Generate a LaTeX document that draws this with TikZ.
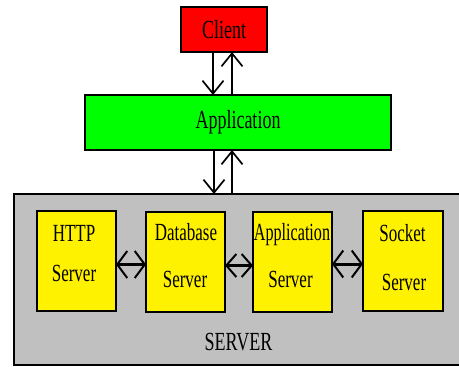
\documentclass[tikz,border=0pt]{standalone}
\usepackage{fontspec}
\setmainfont{Liberation Serif}
\usepackage{graphicx}
\usetikzlibrary{arrows.meta,calc}
\newcommand\vtxt[1]{\scalebox{1}[1.45]{#1}}
\definecolor{srvgray}{HTML}{C0C0C0}
\tikzset{
  x=1pt,y=-1pt,
  box/.style={draw=black,line width=1.5pt,inner sep=0pt,outer sep=0pt},
  inbox/.style={box,fill=yellow,minimum width=79pt,minimum height=100pt},
  lbl/.style={inner sep=0pt,anchor=base,font=\fontsize{17}{17}\selectfont},
  varr/.style={line width=2pt,-{Straight Barb[length=13pt,width=21pt,line width=1.7pt]}},
  harr/.style={line width=3pt,{Straight Barb[length=10pt,width=27pt,line width=2pt]}-{Straight Barb[length=10pt,width=27pt,line width=2pt]}}
}
\begin{document}
\begin{tikzpicture}
\useasboundingbox (0,0) rectangle (459,367);
% server container
\node[draw=black,line width=1.2pt,fill=srvgray,minimum width=447pt,minimum height=171pt,inner sep=0pt,outer sep=0pt] (server) at (237.5,279.5) {};
\node[inner sep=0pt,anchor=base,font=\fontsize{18}{18}\selectfont] (serverlbl) at (238.5,350) {\vtxt{SERVER}};
% client and application
\node[box,fill=red,minimum width=86pt,minimum height=45pt,font=\fontsize{18}{18}\selectfont] (client) at (224,29.5) {\vtxt{Client}};
\node[box,fill=green,minimum width=306pt,minimum height=55pt,font=\fontsize{18}{18}\selectfont] (app) at (238,122.5) {\vtxt{Application}};
% inner servers
\node[inbox] (http) at (76.5,261) {};
\node[inbox] (db) at (185.5,262) {};
\node[inbox] (apps) at (292.5,262) {};
\node[inbox,minimum width=80pt] (sock) at (403,261) {};
\node[lbl] (httpA) at (74,241.5) {\vtxt{HTTP}};
\node[lbl] (httpB) at (74,281.5) {\vtxt{Server}};
\node[lbl] (dbA) at (186,240.5) {\vtxt{Database}};
\node[lbl] (dbB) at (185,287.5) {\vtxt{Server}};
\node[lbl] (appsA) at (292,240.5) {\vtxt{\scalebox{0.95}[1]{Application}}};
\node[lbl] (appsB) at (290.5,287.5) {\vtxt{Server}};
\node[lbl] (sockA) at (402.5,241) {\vtxt{Socket}};
\node[lbl] (sockB) at (404,290) {\vtxt{Server}};
% vertical arrows
\draw[varr] ([xshift=-11pt]client.south) -- ([xshift=-11pt]client.south |- app.north);
\draw[varr] ([xshift=8pt]client.south |- app.north) -- ([xshift=8pt]client.south);
\draw[varr] ([xshift=-24pt]app.south) -- ([xshift=-24pt]app.south |- server.north);
\draw[varr] ([xshift=-6pt]app.south |- server.north) -- ([xshift=-6pt]app.south);
% horizontal double arrows
\draw[harr] (http.east |- 0,264.5) -- (db.west |- 0,264.5);
\draw[harr,{Straight Barb[length=10pt,width=23pt,line width=2pt]}-{Straight Barb[length=10pt,width=23pt,line width=2pt]}] (db.east |- 0,265.5) -- (apps.west |- 0,265.5);
\draw[harr] (apps.east |- 0,264) -- (sock.west |- 0,264);
\end{tikzpicture}
\end{document}
